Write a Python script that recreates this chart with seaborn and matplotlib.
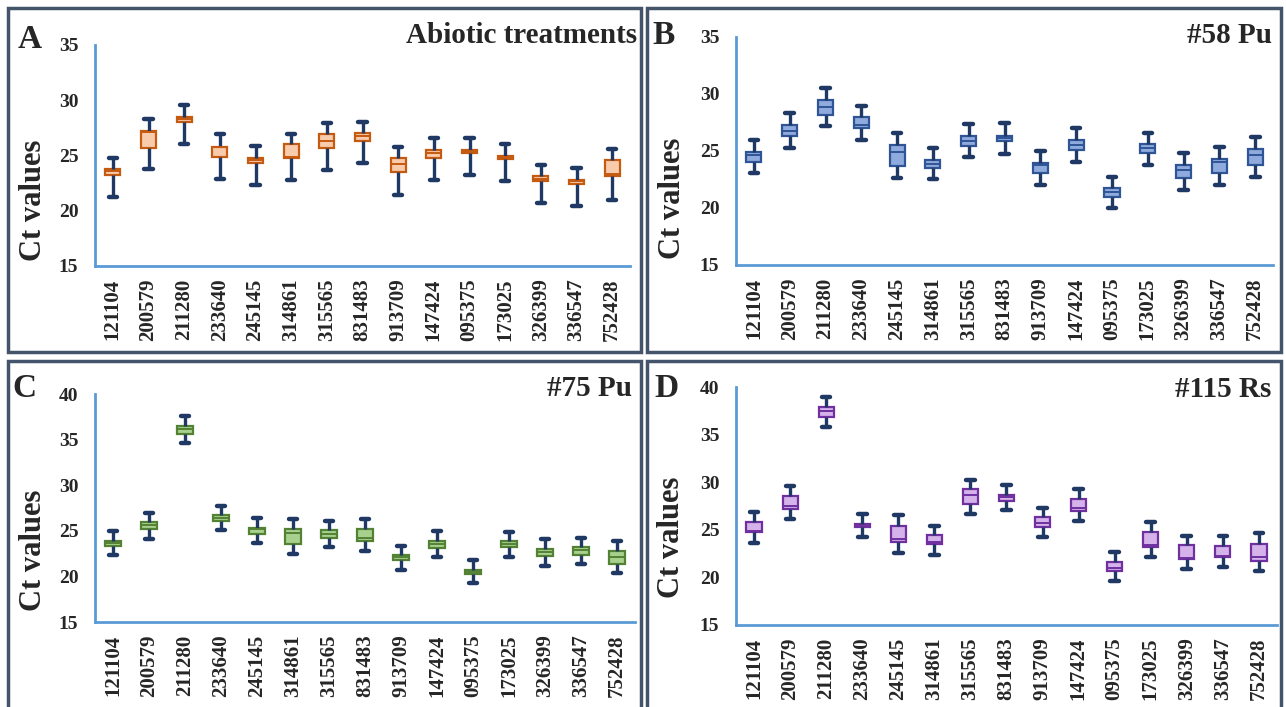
import numpy as np
import pandas as pd
import matplotlib
matplotlib.use('Agg')
import matplotlib.pyplot as plt
from matplotlib.patches import Rectangle
import seaborn as sns

# Gene IDs (x axis)
genes = ['121104', '200579', '211280', '233640', '245145', '314861', '315565', '831483',
         '913709', '147424', '095375', '173025', '326399', '336547', '752428']

# Five-number summaries: min, q1, median, q3, max
a_min = [21.2, 23.75, 26.0, 22.9, 22.3, 22.75, 23.7, 24.35, 21.45, 22.8, 23.2, 22.65, 20.7, 20.4, 21.0]
a_q1 = [23.2, 25.7, 28.05, 24.85, 24.35, 24.75, 25.65, 26.35, 23.5, 24.75, 25.25, 24.7, 22.7, 22.4, 23.1]
a_med = [23.55, 27.1, 28.3, 25.75, 24.6, 24.9, 26.3, 26.75, 24.2, 25.2, 25.4, 24.85, 22.9, 22.7, 23.3]
a_q3 = [23.75, 27.2, 28.5, 25.8, 24.8, 26.0, 26.9, 27.0, 24.75, 25.5, 25.5, 24.95, 23.1, 22.8, 24.55]
a_max = [24.8, 28.3, 29.6, 26.9, 25.9, 26.95, 27.9, 28.0, 25.8, 26.55, 26.55, 26.0, 24.15, 23.85, 25.6]

b_min = [23.05, 25.3, 27.15, 25.95, 22.6, 22.5, 24.45, 24.75, 22.0, 24.05, 20.0, 23.8, 21.6, 22.05, 22.75]
b_q1 = [24.0, 26.35, 28.15, 27.0, 23.7, 23.55, 25.45, 25.85, 23.05, 25.05, 21.0, 24.8, 22.6, 23.05, 23.75]
b_med = [24.65, 26.75, 28.9, 27.3, 24.9, 23.85, 25.9, 26.15, 23.8, 25.5, 21.4, 25.3, 23.35, 24.0, 24.65]
b_q3 = [24.95, 27.3, 29.5, 27.95, 25.5, 24.2, 26.35, 26.35, 23.95, 25.95, 21.75, 25.6, 23.75, 24.3, 25.15]
b_max = [26.0, 28.3, 30.5, 28.95, 26.55, 25.25, 27.35, 27.45, 25.0, 27.0, 22.75, 26.6, 24.8, 25.35, 26.2]

c_min = [22.35, 24.15, 34.6, 25.05, 23.7, 22.45, 23.25, 22.8, 20.75, 22.1, 19.25, 22.15, 21.15, 21.35, 20.35]
c_q1 = [23.35, 25.2, 35.65, 26.1, 24.65, 23.5, 24.25, 23.85, 21.8, 23.15, 20.25, 23.2, 22.25, 22.4, 21.4]
c_med = [23.7, 25.6, 36.2, 26.4, 25.15, 24.8, 24.7, 24.25, 22.1, 23.6, 20.5, 23.55, 22.65, 22.9, 22.1]
c_q3 = [23.85, 26.0, 36.5, 26.7, 25.35, 25.25, 25.05, 25.25, 22.3, 23.9, 20.75, 23.85, 23.0, 23.2, 22.8]
c_max = [25.0, 27.0, 37.55, 27.7, 26.4, 26.35, 26.1, 26.35, 23.3, 24.95, 21.8, 24.9, 24.05, 24.25, 23.9]

d_min = [23.65, 26.15, 35.8, 24.25, 22.6, 22.4, 26.7, 27.05, 24.2, 25.9, 19.65, 22.1, 20.85, 21.1, 20.7]
d_q1 = [24.75, 27.15, 36.9, 25.25, 23.7, 23.5, 27.75, 28.0, 25.25, 26.95, 20.7, 23.15, 21.9, 22.15, 21.7]
d_med = [24.9, 27.45, 37.45, 25.45, 24.0, 23.75, 28.65, 28.4, 25.7, 27.3, 21.0, 23.4, 22.0, 22.25, 22.15]
d_q3 = [25.85, 28.5, 37.85, 25.6, 25.45, 24.45, 29.25, 28.7, 26.3, 28.2, 21.65, 24.75, 23.4, 23.3, 23.55]
d_max = [26.9, 29.6, 38.95, 26.7, 26.55, 25.4, 30.25, 29.75, 27.3, 29.3, 22.65, 25.85, 24.4, 24.35, 24.65]

titles = ['Abiotic treatments', '#58 Pu', '#75 Pu', '#115 Rs']
letters = ['A', 'B', 'C', 'D']
fills = ['#F8CBAD', '#8FAADC', '#A9D18E', '#D5B2EA']
edges = ['#C55A11', '#2F5597', '#548235', '#7030A0']
whisk = '#1F3864'
axis_blue = '#5B9BD5'
frame_col = '#44546A'

def long_form(mins, q1s, meds, q3s, maxs):
    # five values per gene -> boxplot with whiskers at 0/100 percentiles gives these exact stats
    rows = []
    for g, v in zip(genes, zip(mins, q1s, meds, q3s, maxs)):
        for x in v:
            rows.append((g, x))
    return pd.DataFrame(rows, columns=['gene', 'ct'])

panels = [
    long_form(a_min, a_q1, a_med, a_q3, a_max),
    long_form(b_min, b_q1, b_med, b_q3, b_max),
    long_form(c_min, c_q1, c_med, c_q3, c_max),
    long_form(d_min, d_q1, d_med, d_q3, d_max),
]

sns.set_style('white')
plt.rcParams['font.family'] = ['Liberation Serif', 'DejaVu Serif']
plt.rcParams['font.weight'] = 'bold'

fig = plt.figure(figsize=(12.86, 7.07), dpi=100)

# axes rectangles (figure fractions)
rects = [
    [0.0739, 0.6238, 0.4160, 0.3126],
    [0.5723, 0.6252, 0.4177, 0.3225],
    [0.0739, 0.1202, 0.4199, 0.3225],
    [0.5723, 0.1160, 0.4207, 0.3366],
]
ylims = [(15, 35), (15, 35), (15, 40), (15, 40)]
frames = [
    (0.0062, 0.5021, 0.4922, 0.4866),
    (0.5031, 0.5021, 0.4930, 0.4866),
    (0.0062, -0.02, 0.4922, 0.5094),
    (0.5031, -0.02, 0.4930, 0.5094),
]
letter_pos = [(0.0140, 0.944), (0.5070, 0.950), (0.0100, 0.451), (0.5090, 0.451)]
title_pos = [(0.4953, 0.950), (0.9891, 0.950), (0.4914, 0.451), (0.9883, 0.449)]
ylab_pos = [(0.0257, 0.717), (0.5233, 0.720), (0.0257, 0.221), (0.5225, 0.240)]

for i, df in enumerate(panels):
    ax = fig.add_axes(rects[i])
    sns.boxplot(data=df, x='gene', y='ct', order=genes, whis=(0, 100), width=0.42,
                color=fills[i], linecolor=edges[i], linewidth=1.6, ax=ax,
                boxprops=dict(facecolor=fills[i], edgecolor=edges[i], linewidth=1.6),
                medianprops=dict(color=edges[i], linewidth=1.4),
                whiskerprops=dict(color=whisk, linewidth=2.4),
                capprops=dict(color=whisk, linewidth=3.2),
                capwidths=0.24, showfliers=False)
    ax.set_ylim(*ylims[i])
    ax.set_xlim(-0.5, 14.5)
    ax.set_yticks(np.arange(ylims[i][0], ylims[i][1] + 1, 5))
    ax.set_xlabel('')
    ax.set_ylabel('')
    for s in ['top', 'right']:
        ax.spines[s].set_visible(False)
    for s in ['left', 'bottom']:
        ax.spines[s].set_color(axis_blue)
        ax.spines[s].set_linewidth(2.0)
    ax.tick_params(axis='y', length=0, pad=12, labelsize=14)
    ax.tick_params(axis='x', length=0, pad=9, labelsize=15, labelrotation=90)
    for lab in ax.get_xticklabels() + ax.get_yticklabels():
        lab.set_fontweight('bold')

    fig.patches.append(Rectangle(frames[i][:2], frames[i][2], frames[i][3],
                                 transform=fig.transFigure, fill=False,
                                 edgecolor=frame_col, linewidth=2.5, zorder=10))
    fig.text(*letter_pos[i], letters[i], fontsize=24, fontweight='bold', va='center', ha='left')
    fig.text(*title_pos[i], titles[i], fontsize=21, fontweight='bold', va='center', ha='right')
    fig.text(*ylab_pos[i], 'Ct values', fontsize=22, fontweight='bold', va='center',
             ha='center', rotation=90)

fig.savefig('out.png', dpi=100)
